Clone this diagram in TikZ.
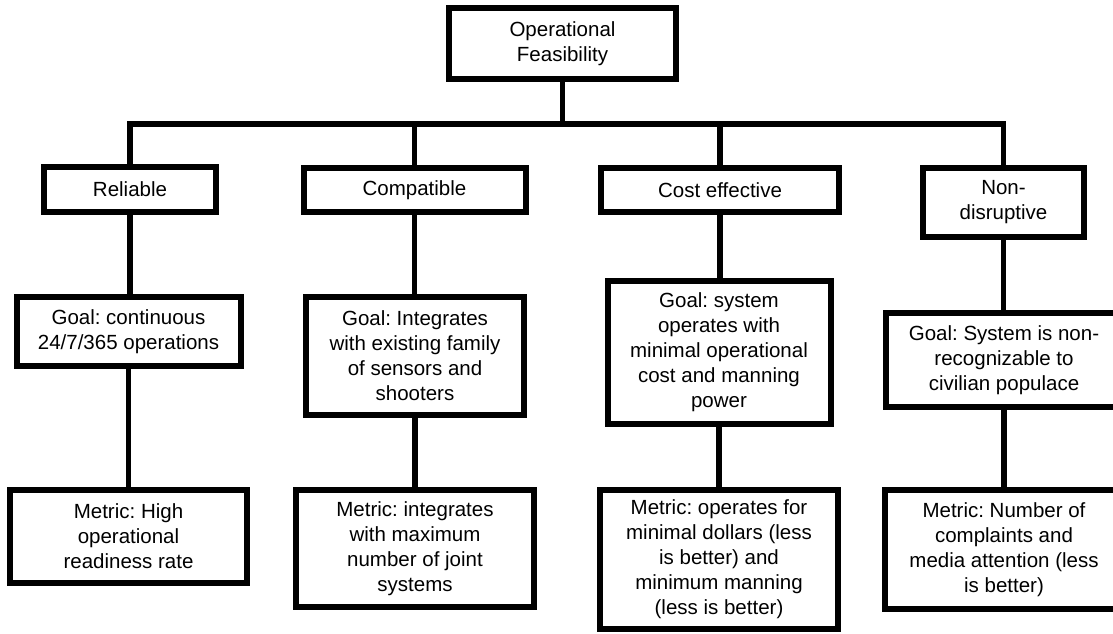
\documentclass[tikz,border=0pt]{standalone}
\usepackage{fontspec}
\setmainfont{Liberation Sans}
\frenchspacing
\begin{document}
\begin{tikzpicture}[x=1pt,y=-1pt,
  box/.style={draw=black, line width=6pt, fill=white, align=center, inner sep=0pt,
    font=\fontsize{20.5pt}{25pt}\selectfont\frenchspacing},
  link/.style={draw=black, line width=5.5pt, line join=miter}]
\useasboundingbox (0,0) rectangle (1113,633);
\clip (0,0) rectangle (1113,633);
\fill[white] (0,0) rectangle (1113,633);
% top
\node[box, minimum width=227pt, minimum height=71pt] (top) at (562.5,43.5) {Operational\\Feasibility};
% level 2
\node[box, minimum width=172pt, minimum height=45pt] (rel) at (130,189.5) {Reliable};
\node[box, minimum width=222pt, minimum height=44pt] (comp) at (414.5,190) {Compatible};
\node[box, minimum width=238pt, minimum height=44pt] (cost) at (720,190) {Cost effective};
\node[box, minimum width=161pt, minimum height=69pt] (non) at (1003.5,202.5) {Non-\\disruptive};
% goals
\node[box, minimum width=224pt, minimum height=69pt] (relg) at (128.5,331.5) {Goal: continuous\\24/7/365 operations};
\node[box, minimum width=218pt, minimum height=118pt] (compg) at (415,356) {Goal: Integrates\\with existing family\\of sensors and\\shooters};
\node[box, minimum width=223pt, minimum height=143pt] (costg) at (719,352.5) {Goal: system\\operates with\\minimal operational\\cost and manning\\power};
\node[box, minimum width=236pt, minimum height=94pt] (nong) at (1004,360) {Goal: System is non-\\recognizable to\\civilian populace};
% metrics
\node[box, minimum width=237pt, minimum height=93pt] (relm) at (128.5,536.5) {Metric: High\\operational\\readiness rate};
\node[box, minimum width=238pt, minimum height=117pt] (compm) at (415,548.5) {Metric: integrates\\with maximum\\number of joint\\systems};
\node[box, minimum width=238pt, minimum height=139pt] (costm) at (719,559.5) {Metric: operates for\\minimal dollars (less\\is better) and\\minimum manning\\(less is better)};
\node[box, minimum width=238pt, minimum height=119pt] (nonm) at (1004,549.5) {Metric: Number of\\complaints and\\media attention (less\\is better)};
% bus
\coordinate (bus) at (562.5,124);
\draw[link] (top.south) -- (top.south |- bus);
\draw[link] (rel.north) -- (rel.north |- bus) -- (non.north |- bus) -- (non.north);
\draw[link] (comp.north) -- (comp.north |- bus);
\draw[link] (cost.north) -- (cost.north |- bus);
% verticals
\draw[link] (rel.south) -- (rel.south |- relg.north);
\draw[link] (relg.south) -- (relg.south |- relm.north);
\draw[link] (comp.south) -- (comp.south |- compg.north);
\draw[link] (compg.south) -- (compg.south |- compm.north);
\draw[link] (cost.south) -- (cost.south |- costg.north);
\draw[link] (costg.south) -- (costg.south |- costm.north);
\draw[link] (non.south) -- (non.south |- nong.north);
\draw[link] (nong.south) -- (nong.south |- nonm.north);
\end{tikzpicture}
\end{document}
